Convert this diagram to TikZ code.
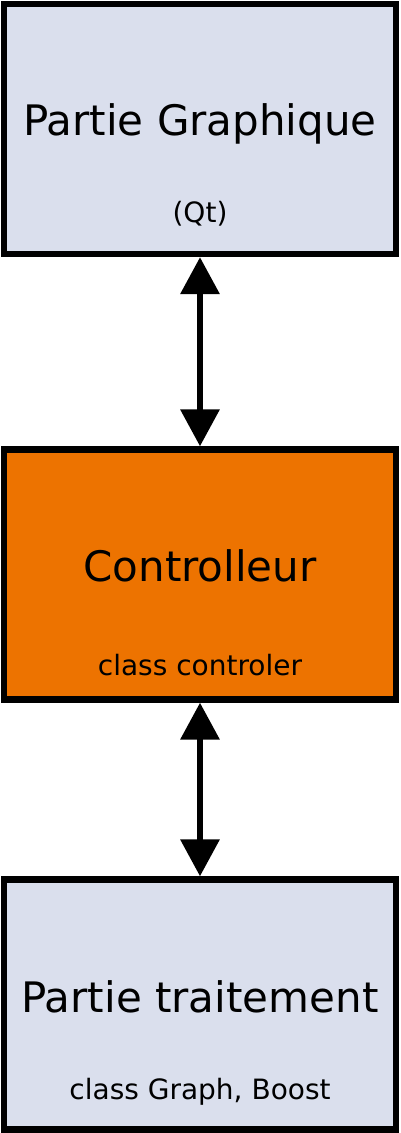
\documentclass[tikz,border=0pt]{standalone}
\usepackage{fontspec}
\setmainfont{DejaVu Sans}
\usetikzlibrary{arrows.meta}
\definecolor{boxblue}{RGB}{218,223,237}
\definecolor{boxorange}{RGB}{237,115,0}
\begin{document}
\begin{tikzpicture}[x=1pt,y=1pt,
  box/.style={draw=black, line width=6.3pt, minimum width=392pt, minimum height=250pt, inner sep=0pt},
  bigtxt/.style={anchor=base, inner sep=0pt, font=\fontsize{42}{48}\selectfont},
  smalltxt/.style={anchor=base, inner sep=0pt, font=\fontsize{28}{32}\selectfont},
  link/.style={line width=6.5pt, {Triangle[length=37pt,width=38pt]}-{Triangle[length=37pt,width=38pt]}}]
\useasboundingbox (0,0) rectangle (400,1133);
\node[box, fill=boxblue] (b1) at (200,1004) {};
\node[box, fill=boxorange] (b2) at (200,558.5) {};
\node[box, fill=boxblue] (b3) at (200,128.5) {};
\node[bigtxt] (t1) at (200,997.5) {Partie Graphique};
\node[smalltxt] (s1) at (200,910.5) {(Qt)};
\node[bigtxt] (t2) at (200,551.3) {Controlleur};
\node[smalltxt] (s2) at (200,457.5) {class controler};
\node[bigtxt] (t3) at (200,120.5) {Partie traitement};
\node[smalltxt] (s3) at (200,33.5) {class Graph, Boost};
\draw[link] (b1.south) -- (b2.north);
\draw[link] (b2.south) -- (b3.north);
\end{tikzpicture}
\end{document}
